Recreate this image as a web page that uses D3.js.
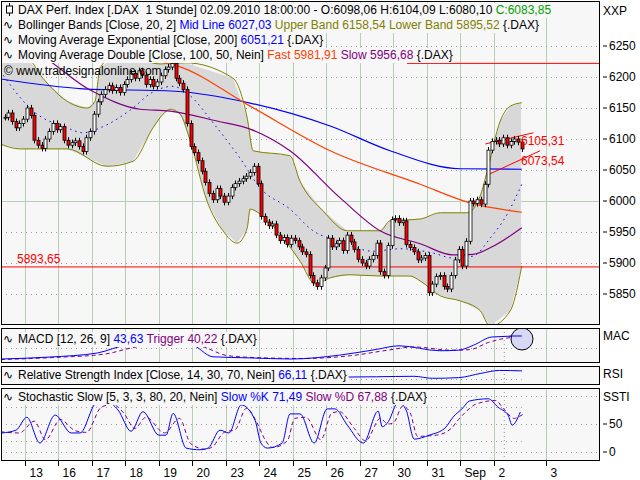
<!DOCTYPE html>
<html><head><meta charset="utf-8">
<script src="https://cdn.jsdelivr.net/npm/d3@7"></script>
<style>body{margin:0;background:#fff}svg{display:block}text{font-family:"Liberation Sans",Arial,sans-serif;font-size:12px;white-space:pre}</style>
</head><body><svg id="c" width="640" height="480"></svg>
<script>
// ---- data ----
const dayLabels = ["13","16","17","18","19","20","23","24","25","26","27","30","31","Sep","2","3"];
const dayStarts = [5.5,14.5,23.5,32.5,41.5,50.5,59.5,68.5,77.5,86.5,95.5,104.5,113.5,122.5,131.5,145.5];
const closes = [
 6135,6142,6128,6118,6125,6132,
 6150,6138,6098,6090,6085,6100,6112,6125,6115,
 6120,6098,6090,6094,6097,6088,6080,6102,6112,
 6140,6160,6172,6180,6186,6178,6183,6175,6188,
 6196,6206,6198,6210,6203,6188,6196,6185,6192,
 6202,6212,6216,6222,6198,6190,6180,6125,6088,
 6078,6065,6048,6030,6012,6002,6020,6008,5998,
 6008,6022,6028,6032,6036,6040,6046,6056,6028,
 5975,5966,5960,5963,5945,5936,5941,5930,5940,
 5936,5926,5918,5914,5880,5868,5862,5876,5892,
 5940,5926,5931,5936,5920,5945,5934,5922,5906,
 5900,5895,5906,5912,5932,5886,5880,5928,5970,
 5972,5965,5968,5930,5925,5918,5905,5908,5912,
 5852,5866,5878,5880,5862,5858,5880,5905,5922,
 5895,5935,6000,5996,6002,5995,6027,6082,6096,
 6098,6092,6102,6090,6096,6100,6095,6084];
const bbUpper = [[-1.2,6237],[6,6231],[10.3,6198],[16.8,6161],[22.2,6150],[24.3,6161],[25.7,6215],[31,6239],[41.8,6221],[48.5,6223],[61.4,6198],[65.2,6134],[66.8,6081],[76.7,6073],[79.4,6032],[85.6,5984],[92.1,5952],[100.9,5952],[103.6,5968],[111.7,5971],[117.1,5981],[124.3,5981],[127.8,6008],[129.7,6048],[133.2,6129],[135.9,6153],[139,6158.5]];
const bbLower = [[-1.2,6092],[4.2,6084],[16.8,6084],[27.5,6056],[34.5,6064],[39.9,6118],[42.6,6140],[44.5,6148],[47.2,6140],[49.9,6097],[54.4,6000],[58.7,5952],[62.5,5932],[65.2,5956],[66,5987],[68.7,5979],[74,5947],[79.4,5903],[83.5,5866],[87.5,5876],[92.9,5881],[100.9,5879],[109,5879],[111.7,5871],[117.1,5847],[122.4,5839],[127.8,5823],[130.5,5798],[135.9,5823],[139,5895.5]];
const bbMid = [[-1.2,6210],[7.7,6145],[16.8,6118],[21.1,6110],[25.7,6118],[34.5,6150],[39.1,6173],[45.3,6185],[49,6174],[57.1,6118],[63.3,6069],[68.7,6021],[76.7,5987],[82.9,5952],[90.2,5935],[99,5919],[106.3,5923],[115.2,5916],[120.5,5908],[125.9,5911],[130.5,5940],[135.1,5979],[139,6027]];
const ema200 = [[-1.2,6197],[21.1,6181],[45.8,6177],[66,6158],[87.5,6121],[103.6,6081],[122.4,6052],[139,6051.2]];
const maFast = [[36.4,6229],[46.4,6218],[66,6153],[87.5,6081],[111.7,6027],[125.1,5997],[139,5981.9]];
const maSlow = [[4.2,6250],[7.7,6242],[23,6179],[36.4,6148],[44.5,6145],[57.1,6129],[66,6116],[76.7,6081],[90.2,6005],[100.9,5952],[111.7,5931],[120.5,5913],[125.9,5914],[131.3,5927],[139,5956.7]];
const macd = [[-1,-40],[12,-33],[25,-18],[33,10],[42,14],[50,12],[56,-32],[66,-36],[77,-40],[90,-26],[100,-5],[106,8],[117,-10],[122,-8],[126,10],[131,40],[139,43.6]];
const trigger = [[-1,-42],[14,-34],[27,-22],[36,5],[45,12],[52,8],[60,-28],[70,-36],[80,-38],[93,-28],[103,-8],[110,4],[120,-8],[125,-6],[130,20],[134,34],[139,40.2]];
const rsi = [[-1,45],[10,35],[20,60],[35,62],[48,55],[55,22],[65,38],[80,30],[87,30],[90,38],[100,40],[110,42],[115,33],[122,36],[128,55],[133,68],[139,66.1]];
const stochK = [[-0.7,34],[3.1,39],[6,62],[9.5,16],[13.6,66],[17.9,34],[20.3,34],[24.6,87],[27.3,90],[30.5,75],[34,37],[37.2,72],[41.5,30],[43.4,30],[45.3,69],[48.8,7],[52.5,4],[54.7,7],[57.9,39],[60.3,34],[63.6,84],[67.3,57],[68.9,16],[70.6,7],[74.6,16],[76.7,68],[79.4,68],[83.2,16],[86.7,77],[88.8,77],[92.1,48],[96.4,16],[100.4,73],[101.5,45],[103.1,54],[105.8,89],[107.9,75],[110.1,23],[114.1,30],[118.4,43],[120.5,62],[123.2,79],[124.9,91],[130,95],[132.6,80],[135.3,66],[136.4,48],[138.6,71.5]];
const stochD = [[-1,36],[4,34],[8,55],[11,22],[15,58],[19,38],[22,35],[26,80],[29,85],[32,70],[35,42],[38,62],[43,34],[47,60],[50,15],[54,5],[56,10],[59,35],[62,40],[65,78],[68,50],[70,22],[72,8],[76,20],[78,60],[81,62],[85,22],[88,70],[90,72],[94,42],[97,20],[101,60],[103,50],[104.5,52],[107,82],[109,70],[111,28],[116,30],[120,42],[122,58],[125,78],[126.5,85],[132,92],[134,78],[137,60],[138.5,64],[139.5,67.9]];
const priceTicks = [6250,6200,6150,6100,6050,6000,5950,5900,5850];
const stochTicks = [50,0];

// ---- scales ----
const svg = d3.select("#c");
const L=1, R=599;
const x = d3.scaleLinear().domain([5.5,145.5]).range([25,546]);
const yP = d3.scaleLinear().domain([6250,5850]).range([46,294]);
const yM = d3.scaleLinear().domain([0,43.6]).range([348,336]);
const yR = d3.scaleLinear().domain([30,70]).range([379,370]);
const yS = d3.scaleLinear().domain([0,100]).range([452,396]);
const panels = [{t:1,b:324,id:"p0"},{t:328,b:362,id:"p1"},{t:366,b:384,id:"p2"},{t:388,b:460,id:"p3"}];
const defs = svg.append("defs");
panels.forEach(p=>{
  defs.append("clipPath").attr("id",p.id).append("rect").attr("x",L).attr("y",p.t).attr("width",R-L).attr("height",p.b-p.t);
  svg.append("rect").attr("x",L+0.5).attr("y",p.t+0.5).attr("width",R-L).attr("height",p.b-p.t).attr("fill","#f7f7f7");
});
const G = panels.map(p=>svg.append("g").attr("clip-path",`url(#${p.id})`));
panels.forEach((p,k)=>{
  G[k].selectAll(null).data(dayStarts).join("line").attr("x1",d=>Math.round(x(d))+0.5).attr("x2",d=>Math.round(x(d))+0.5)
    .attr("y1",p.t).attr("y2",p.b).attr("stroke","#b9cdb9").attr("stroke-width",1);
  if(k>0) G[k].append("line").attr("x1",x(134.3)).attr("x2",x(134.3)).attr("y1",p.t).attr("y2",p.b).attr("stroke","#9a9a9a").attr("stroke-dasharray","1,3");
});
G[0].selectAll(null).data(priceTicks).join("line").attr("x1",L).attr("x2",R)
  .attr("y1",d=>Math.round(yP(d))+0.5).attr("y2",d=>Math.round(yP(d))+0.5)
  .attr("stroke",d=>d===6000?"#b9cdb9":"#9a9a9a").attr("stroke-dasharray",d=>d===6000?null:"1,4");
const ln = (ys)=>d3.line().x(d=>x(d[0])).y(d=>ys(d[1])).curve(d3.curveMonotoneX);
const area = d3.area().x(d=>x(d[0])).y0(d=>yP(d[1])).y1(d=>yP(d[2])).curve(d3.curveMonotoneX);
const idx = d3.range(-1.2,139.01,0.5);
const interp = arr=>{const s=d3.scaleLinear().domain(arr.map(d=>d[0])).range(arr.map(d=>d[1]));return i=>s(i);};
const up=interp(bbUpper), lo=interp(bbLower);
G[0].append("path").attr("d",area(idx.map(i=>[i,up(i),lo(i)]))).attr("fill","#d8d8d8");
G[0].append("path").attr("d",ln(yP)(bbUpper)).attr("fill","none").attr("stroke","#808000");
G[0].append("path").attr("d",ln(yP)(bbLower)).attr("fill","none").attr("stroke","#808000");
G[0].append("path").attr("d",ln(yP)(bbMid)).attr("fill","none").attr("stroke","#0000ff").attr("stroke-dasharray","1.5,4");
G[0].append("path").attr("d",ln(yP)(ema200)).attr("fill","none").attr("stroke","#0000ff").attr("stroke-width",1.2);
G[0].append("path").attr("d",ln(yP)(maFast)).attr("fill","none").attr("stroke","#ff4000").attr("stroke-width",1.2);
G[0].append("path").attr("d",ln(yP)(maSlow)).attr("fill","none").attr("stroke","#800080").attr("stroke-width",1.2);
G[0].append("line").attr("x1",L).attr("x2",R).attr("y1",yP(5893.65)).attr("y2",yP(5893.65)).attr("stroke","#ff0000");
G[0].append("text").attr("x",17).attr("y",yP(5893.65)-4).attr("fill","#ff0000").text("5893,65");
G[0].append("line").attr("x1",407).attr("x2",R).attr("y1",yP(6222)).attr("y2",yP(6222)).attr("stroke","#ff0000");
G[0].append("line").attr("x1",x(129.2)).attr("x2",x(142.1)).attr("y1",yP(6092)).attr("y2",yP(6110)).attr("stroke","#ff0000");
G[0].append("line").attr("x1",x(130.5)).attr("x2",x(143.9)).attr("y1",yP(6044)).attr("y2",yP(6081)).attr("stroke","#ff0000");
const bars = closes.map((c,i)=>({i:i, o: i?closes[i-1]:c, c}));
const cg = G[0].append("g");
cg.selectAll(null).data(bars).join("line").attr("x1",d=>Math.round(x(d.i))+0.5).attr("x2",d=>Math.round(x(d.i))+0.5)
  .attr("y1",d=>yP(Math.max(d.o,d.c)+5)).attr("y2",d=>yP(Math.min(d.o,d.c)-5)).attr("stroke","#000");
cg.selectAll(null).data(bars).join("rect").attr("x",d=>Math.round(x(d.i))-1).attr("width",3)
  .attr("y",d=>yP(Math.max(d.o,d.c))).attr("height",d=>Math.max(1,Math.abs(yP(d.o)-yP(d.c))))
  .attr("fill",d=>d.c>=d.o?"#ffffff":"#ff0000").attr("stroke","#000").attr("stroke-width",0.8);
G[0].append("text").attr("x",521).attr("y",145).attr("fill","#ff0000").text("6105,31");
G[0].append("text").attr("x",521).attr("y",165).attr("fill","#ff0000").text("6073,54");
G[0].append("text").attr("x",4).attr("y",75).attr("font-size","11px").attr("fill","#000").text("© www.tradesignalonline.com");
G[1].append("line").attr("x1",L).attr("x2",R).attr("y1",348.5).attr("y2",348.5).attr("stroke","#9a9a9a").attr("stroke-dasharray","1,4");
G[1].append("path").attr("d",ln(yM)(trigger)).attr("fill","none").attr("stroke","#800080").attr("stroke-dasharray","4,3");
G[1].append("path").attr("d",ln(yM)(macd)).attr("fill","none").attr("stroke","#0000ff");
G[1].append("circle").attr("cx",522).attr("cy",339).attr("r",11).attr("fill","#d8d8f4").attr("stroke","#000");
G[1].append("line").attr("x1",x(139)-12).attr("x2",x(139)).attr("y1",yM(43.6)).attr("y2",yM(43.6)).attr("stroke","#0000ff");
[70,30].forEach(v=>G[2].append("line").attr("x1",L).attr("x2",x(139)).attr("y1",Math.round(yR(v))+0.5).attr("y2",Math.round(yR(v))+0.5).attr("stroke","#9a9a9a").attr("stroke-dasharray","1,4"));
G[2].append("path").attr("d",ln(yR)(rsi)).attr("fill","none").attr("stroke","#0000ff");
[100,0].forEach(v=>G[3].append("line").attr("x1",L).attr("x2",R).attr("y1",Math.round(yS(v))+0.5).attr("y2",Math.round(yS(v))+0.5).attr("stroke","#9a9a9a").attr("stroke-dasharray","1,4"));
[80,50,20].forEach(v=>G[3].append("line").attr("x1",L).attr("x2",v===50?R:x(139)).attr("y1",Math.round(yS(v))+0.5).attr("y2",Math.round(yS(v))+0.5).attr("stroke","#9a9a9a").attr("stroke-dasharray","1,4"));
G[3].append("path").attr("d",ln(yS)(stochD)).attr("fill","none").attr("stroke","#800080").attr("stroke-dasharray","4,3");
G[3].append("path").attr("d",ln(yS)(stochK)).attr("fill","none").attr("stroke","#0000ff");
panels.forEach(p=>svg.append("rect").attr("x",L+0.5).attr("y",p.t+0.5).attr("width",R-L).attr("height",p.b-p.t).attr("fill","none").attr("stroke","#000"));
const ra = svg.append("g");
ra.append("text").attr("x",603).attr("y",15).text("XXP");
priceTicks.forEach(v=>{ra.append("line").attr("x1",603).attr("x2",607).attr("y1",yP(v)).attr("y2",yP(v)).attr("stroke","#000");
  ra.append("text").attr("x",609).attr("y",yP(v)+4).text(v);});
ra.append("text").attr("x",603).attr("y",340).text("MAC");
ra.append("text").attr("x",603).attr("y",378).text("RSI");
ra.append("text").attr("x",603).attr("y",401).text("SSTI");
stochTicks.forEach(v=>{ra.append("line").attr("x1",603).attr("x2",607).attr("y1",yS(v)).attr("y2",yS(v)).attr("stroke","#000");
  ra.append("text").attr("x",609).attr("y",yS(v)+4).text(v);});
const ax = svg.append("g");
dayStarts.forEach((d,k)=>{const xx=Math.round(x(d))+0.5;
  ax.append("line").attr("x1",xx).attr("x2",xx).attr("y1",461).attr("y2",466).attr("stroke","#000");
  ax.append("text").attr("x",xx+4).attr("y",477).text(dayLabels[k]);});
function legend(y,parts,icon){
  const g = svg.append("g");
  const t = g.append("text").attr("x",18).attr("y",y);
  parts.forEach(p=>t.append("tspan").attr("fill",p[1]).text(p[0]));
  const bb = t.node().getBBox();
  g.insert("rect","text").attr("x",2).attr("y",y-11).attr("width",bb.x+bb.width).attr("height",15).attr("fill","#f7f7f7");
  if(icon==="candle"){g.append("line").attr("x1",9.5).attr("x2",9.5).attr("y1",y-11).attr("y2",y+2).attr("stroke","#000");
    g.append("rect").attr("x",6.5).attr("y",y-8).attr("width",6).attr("height",7).attr("fill","#fff").attr("stroke","#000");}
  else g.append("text").attr("x",3).attr("y",y).attr("font-family","DejaVu Sans").attr("font-size","12px").text("∿");
}
legend(14,[["DAX Perf. Index [.DAX  1 Stunde] 02.09.2010 18:00:00 - O:6098,06 H:6104,09 L:6080,10 ","#000"],["C:6083,85","#00a000"]],"candle");
legend(29,[["Bollinger Bands [Close, 20, 2] ","#000"],["Mid Line 6027,03 ","#0000ff"],["Upper Band 6158,54 Lower Band 5895,52 ","#808000"],["{.DAX}","#000"]]);
legend(44,[["Moving Average Exponential [Close, 200] ","#000"],["6051,21 ","#0000ff"],["{.DAX}","#000"]]);
legend(59,[["Moving Average Double [Close, 100, 50, Nein] ","#000"],["Fast 5981,91 ","#ff4000"],["Slow 5956,68 ","#800080"],["{.DAX}","#000"]]);
legend(343,[["MACD [12, 26, 9] ","#000"],["43,63 ","#0000ff"],["Trigger 40,22 ","#800080"],["{.DAX}","#000"]]);
legend(379,[["Relative Strength Index [Close, 14, 30, 70, Nein] ","#000"],["66,11 ","#0000ff"],["{.DAX}","#000"]]);
legend(401,[["Stochastic Slow [5, 3, 3, 80, 20, Nein] ","#000"],["Slow %K 71,49 ","#0000ff"],["Slow %D 67,88 ","#800080"],["{.DAX}","#000"]]);
</script></body></html>
